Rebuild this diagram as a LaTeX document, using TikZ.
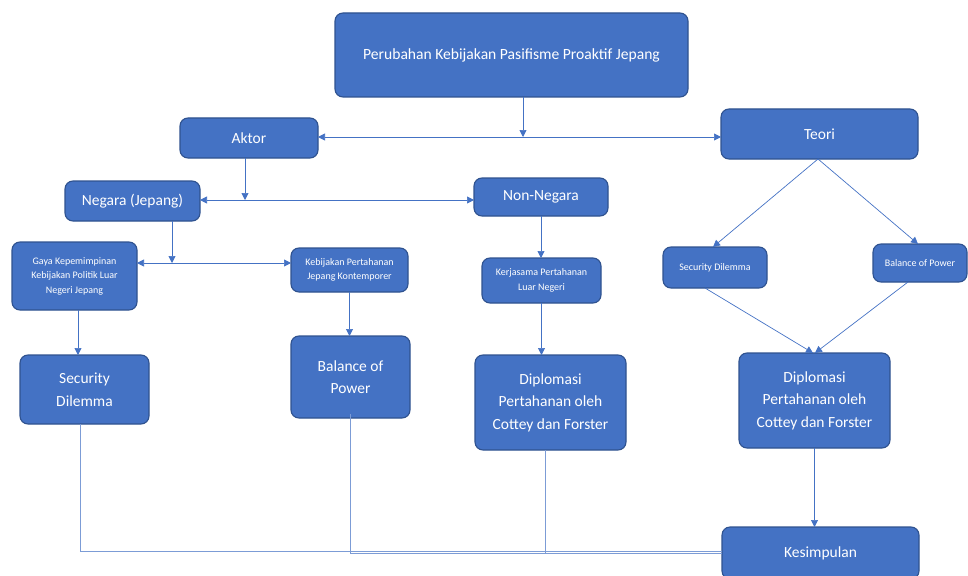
\documentclass[tikz,border=0pt]{standalone}
\usepackage{fontspec}
\setmainfont{Carlito}
\usetikzlibrary{arrows.meta,calc}
\definecolor{boxfill}{HTML}{4472C4}
\definecolor{boxline}{HTML}{2F528F}
\definecolor{conn}{HTML}{4472C4}
\tikzset{
  box/.style={rectangle, rounded corners=8pt, fill=boxfill, draw=boxline, line width=1.1pt,
    text=white, align=center, inner sep=0pt, outer sep=0pt},
  fbig/.style={font=\fontsize{15.5}{22.5}\selectfont},
  fmid/.style={font=\fontsize{15.5}{18}\selectfont},
  fsmall/.style={font=\fontsize{10}{14.5}\selectfont},
  arr/.style={draw=conn, line width=0.7pt, -{Triangle[length=7pt,width=7pt]}},
  arrtwo/.style={draw=conn, line width=0.7pt, {Triangle[length=7pt,width=7pt]}-{Triangle[length=7pt,width=7pt]}},
  lin/.style={draw=conn!70, line width=0.6pt},
}
\begin{document}
\begin{tikzpicture}[x=1pt,y=-1pt]
\useasboundingbox (0,0) rectangle (968,575);
\clip (0,0) rectangle (968,575);
% nodes
\node[box,minimum width=353pt,minimum height=84pt,font=\fontsize{15.6}{18}\selectfont] (top) at (511.5,55) {\raisebox{-2pt}{Perubahan Kebijakan Pasifisme Proaktif Jepang}};
\node[box,fmid,minimum width=138pt,minimum height=40pt] (aktor) at (249,138) {Aktor};
\node[box,fmid,minimum width=197pt,minimum height=50pt] (teori) at (819.5,134) {Teori};
\node[box,fmid,minimum width=135pt,minimum height=40pt] (negara) at (132.5,201) {Negara (Jepang)};
\node[box,fmid,minimum width=134pt,minimum height=38pt] (nonneg) at (541,197) {Non-Negara};
\node[box,fsmall,minimum width=125pt,minimum height=68pt] (gaya) at (74.5,276) {Gaya Kepemimpinan\\Kebijakan Politik Luar\\Negeri Jepang};
\node[box,fsmall,minimum width=117pt,minimum height=44pt] (kebijakan) at (349.5,270) {Kebijakan Pertahanan\\Jepang Kontemporer};
\node[box,fsmall,minimum width=119pt,minimum height=45pt] (kerjasama) at (541.5,280.5) {Kerjasama Pertahanan\\Luar Negeri};
\node[box,fsmall,minimum width=104pt,minimum height=41pt] (sdsmall) at (715,267.5) {Security Dilemma};
\node[box,fsmall,minimum width=94pt,minimum height=38pt] (bopsmall) at (920,263) {Balance of Power};
\node[box,fbig,minimum width=129pt,minimum height=69pt] (sdbig) at (84.5,389.5) {Security\\Dilemma};
\node[box,fbig,minimum width=119pt,minimum height=82pt] (bopbig) at (350.5,377) {Balance of\\Power};
\node[box,fbig,minimum width=151pt,minimum height=95pt] (dipa) at (550.5,402.5) {Diplomasi\\Pertahanan oleh\\Cottey dan Forster};
\node[box,fbig,minimum width=151pt,minimum height=95pt] (dipb) at (814.5,400.5) {Diplomasi\\Pertahanan oleh\\Cottey dan Forster};
\node[box,fmid,minimum width=197pt,minimum height=52pt] (kes) at (820.5,553) {Kesimpulan};
% junctions
\coordinate (ja) at (523,137);
\coordinate (jb) at (245,200);
\coordinate (jc) at (172,263);
\coordinate (ba) at (0,551);
\coordinate (bb) at (0,553);
% connectors
\draw[arrtwo] (aktor.east |- ja) -- (teori.west |- ja);
\draw[arr] (top.south -| ja) -- (ja);
\draw[arrtwo] (negara.east |- jb) -- (nonneg.west |- jb);
\draw[arr] (aktor.south -| jb) -- (jb);
\draw[arrtwo] (gaya.east |- jc) -- (kebijakan.west |- jc);
\draw[arr] (negara.south -| jc) -- (jc);
\draw[arr] (nonneg.south) -- (nonneg.south |- kerjasama.north);
\draw[arr] ([xshift=-1.5pt]teori.south) -- ([xshift=-2pt]sdsmall.north);
\draw[arr] ([xshift=-1.5pt]teori.south) -- ([xshift=-2pt]bopsmall.north);
\draw[arr] ([xshift=3.5pt]gaya.south) -- ([xshift=3.5pt]gaya.south |- sdbig.north);
\draw[arr] (kebijakan.south) -- (kebijakan.south |- bopbig.north);
\draw[arr] (kerjasama.south) -- (kerjasama.south |- dipa.north);
\draw[arr] ([xshift=-10pt]sdsmall.south) -- ([xshift=-1.5pt]dipb.north);
\draw[arr] ([xshift=-12pt]bopsmall.south) -- ([xshift=0.5pt]dipb.north);
\draw[arr] (dipb.south) -- (dipb.south |- kes.north);
\draw[lin] ([xshift=-4.5pt]sdbig.south) |- (kes.west |- ba);
\draw[lin] ([yshift=4pt]bopbig.south) |- (kes.west |- bb);
\draw[lin] ([xshift=-5.5pt]dipa.south) |- (kes.west |- bb);
\end{tikzpicture}
\end{document}
